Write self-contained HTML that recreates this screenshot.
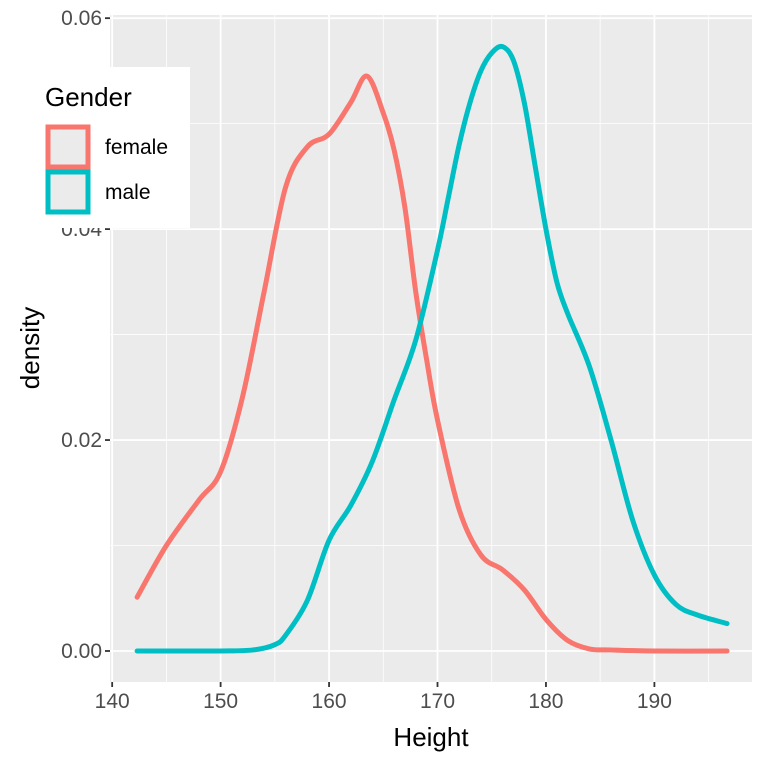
<!DOCTYPE html>
<html><head><meta charset="utf-8"><style>
body{margin:0;background:#fff;font-family:"Liberation Sans",sans-serif;}
svg{display:block}
</style></head><body>
<svg id="chart" width="768" height="768" xmlns="http://www.w3.org/2000/svg">
<rect x="110" y="15" width="642" height="667" fill="#ebebeb"/>
<g id="grid"></g>
<g id="axes"></g>
<g id="lines"></g>
<text x="431" y="746" font-size="26" text-anchor="middle" fill="#000">Height</text>
<text x="0" y="0" font-size="26" text-anchor="middle" fill="#000" transform="translate(39,348) rotate(-90)">density</text>
<g>
<rect x="38" y="67" width="152" height="161" fill="#fff"/>
<text x="45" y="106" font-size="26" fill="#000">Gender</text>
<g>
<rect x="48" y="127" width="40" height="40" fill="#ebebeb" stroke="#F8766D" stroke-width="5"/>
<text x="105" y="154" font-size="21" fill="#000">female</text>
</g>
<g>
<rect x="48" y="172" width="40" height="40" fill="#ebebeb" stroke="#00BFC4" stroke-width="5"/>
<text x="105" y="199" font-size="21" fill="#000">male</text>
</g>
</g>
</svg>
<script>
const femaleX=[142.3,145,148,150,152,154,156,158,160,162,163.5,165,166,167,168,169,170,172,174,176,178,180,182,184,186,190,196.7];
const femaleY=[0.0051,0.0100,0.0143,0.0170,0.0240,0.0340,0.0440,0.0478,0.0490,0.0520,0.0545,0.0510,0.0475,0.0420,0.0340,0.0276,0.0219,0.0134,0.0091,0.0077,0.0058,0.0030,0.0010,0.0002,0.0001,0,0];
const maleX=[142.3,150,153,155,156,158,160,162,164,166,168,170,171,172,173,174,175,176,177,178,179,180,181,182,184,186,188,190,192,194,196.7];
const maleY=[0,0,0.0001,0.0006,0.0015,0.0048,0.0105,0.0138,0.0180,0.0238,0.0295,0.0380,0.0430,0.0480,0.0520,0.0550,0.0567,0.0573,0.0560,0.0520,0.0460,0.0400,0.0350,0.0320,0.0270,0.0200,0.0124,0.0072,0.0044,0.0034,0.0026];
const xTicks=[140,150,160,170,180,190];
const xMinor=[145,155,165,175,185,195];
const yTicks=[0,0.02,0.04,0.06];
const yTickLabels=["0.00","0.02","0.04","0.06"];
const yMinor=[0.01,0.03,0.05];

const NS="http://www.w3.org/2000/svg";
const X0=110,X1=752,Y0=682,Y1=15;
const xmin=139.8,xmax=199.0,ymin=-0.00294,ymax=0.0603;
const sx=v=>X0+(v-xmin)/(xmax-xmin)*(X1-X0);
const sy=v=>Y0-(v-ymin)/(ymax-ymin)*(Y0-Y1);
function mk(tag,attrs,parent){const e=document.createElementNS(NS,tag);for(const k in attrs)e.setAttribute(k,attrs[k]);parent.appendChild(e);return e;}
const grid=document.getElementById('grid'),axes=document.getElementById('axes'),lines=document.getElementById('lines');
xMinor.forEach(v=>{const l=mk('line',{x1:sx(v),x2:sx(v),y1:Y1,y2:Y0,stroke:'#fff','stroke-width':0.8},grid);

});
yMinor.forEach(v=>{const l=mk('line',{x1:X0,x2:X1,y1:sy(v),y2:sy(v),stroke:'#fff','stroke-width':0.8},grid);

});
xTicks.forEach(v=>{const l=mk('line',{x1:sx(v),x2:sx(v),y1:Y1,y2:Y0,stroke:'#fff','stroke-width':1.8},grid);


const t=mk('line',{x1:sx(v),x2:sx(v),y1:Y0,y2:Y0+5,stroke:'#333','stroke-width':1.8},axes);


const tx=mk('text',{x:sx(v),y:Y0+26,'font-size':21,'text-anchor':'middle',fill:'#4d4d4d'},axes);tx.textContent=v;

});
yTicks.forEach((v,i)=>{const l=mk('line',{x1:X0,x2:X1,y1:sy(v),y2:sy(v),stroke:'#fff','stroke-width':1.8},grid);


const t=mk('line',{x1:X0-5,x2:X0,y1:sy(v),y2:sy(v),stroke:'#333','stroke-width':1.8},axes);


const tx=mk('text',{x:X0-8,y:sy(v)+7,'font-size':21,'text-anchor':'end',fill:'#4d4d4d'},axes);tx.textContent=yTickLabels[i];

});
function path(xs,ys){const p=xs.map((x,i)=>[sx(x),sy(ys[i])]);let d='M'+p[0][0]+','+p[0][1];
for(let i=0;i<p.length-1;i++){const a=p[Math.max(0,i-1)],b=p[i],c=p[i+1],e=p[Math.min(p.length-1,i+2)];
const c1=[b[0]+(c[0]-a[0])/6,b[1]+(c[1]-a[1])/6],c2=[c[0]-(e[0]-b[0])/6,c[1]-(e[1]-b[1])/6];
d+=' C'+c1+' '+c2+' '+c;}return d;}
const f=mk('path',{d:path(femaleX,femaleY),fill:'none',stroke:'#F8766D','stroke-width':5,'stroke-linecap':'round','stroke-linejoin':'round'},lines);


const m=mk('path',{d:path(maleX,maleY),fill:'none',stroke:'#00BFC4','stroke-width':5,'stroke-linecap':'round','stroke-linejoin':'round'},lines);


</script>
</body></html>
